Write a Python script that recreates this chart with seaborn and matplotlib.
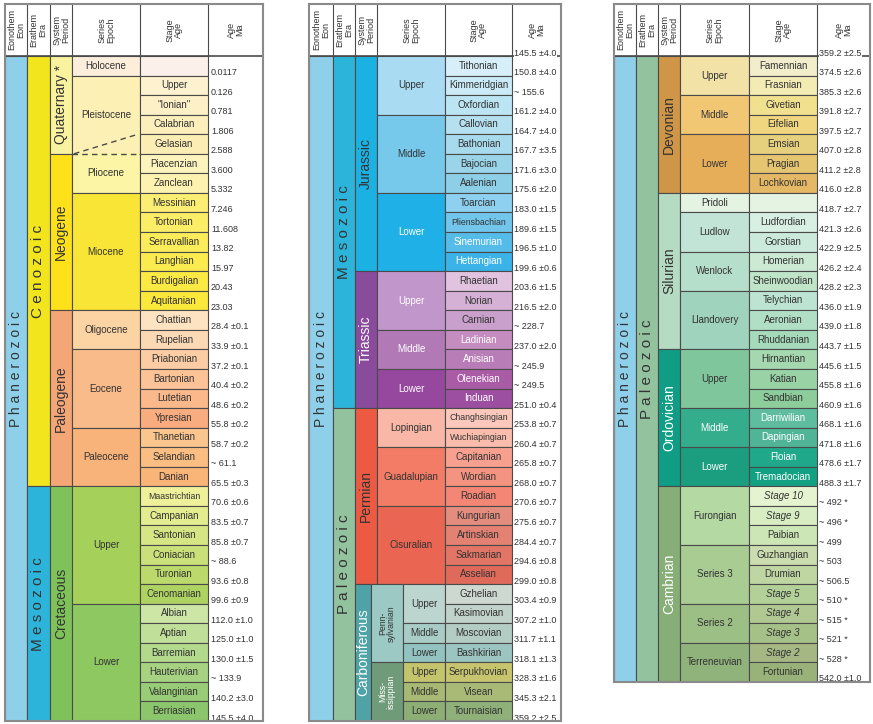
import matplotlib
matplotlib.use("Agg")
import numpy as np
import matplotlib.pyplot as plt
import seaborn as sns

# ---------------- data: panel 1 (Cenozoic / Cretaceous) ----------------
p1_eons = ["Phanerozoic"]
p1_eon_rows = [34]
p1_eras = ["Cenozoic", "Mesozoic"]
p1_era_rows = [22, 12]
p1_periods = ["Quaternary *", "Neogene", "Paleogene", "Cretaceous"]
p1_period_rows = [5, 8, 9, 12]
p1_epochs = ["Holocene", "Pleistocene", "Pliocene", "Miocene", "Oligocene",
             "Eocene", "Paleocene", "Upper", "Lower"]
p1_epoch_rows = [1, 4, 2, 6, 2, 4, 3, 6, 6]
p1_stages = ["", "Upper", '"Ionian"', "Calabrian", "Gelasian", "Piacenzian",
             "Zanclean", "Messinian", "Tortonian", "Serravallian", "Langhian",
             "Burdigalian", "Aquitanian", "Chattian", "Rupelian", "Priabonian",
             "Bartonian", "Lutetian", "Ypresian", "Thanetian", "Selandian",
             "Danian", "Maastrichtian", "Campanian", "Santonian", "Coniacian",
             "Turonian", "Cenomanian", "Albian", "Aptian", "Barremian",
             "Hauterivian", "Valanginian", "Berriasian"]
p1_ages = ["0.0117", "0.126", "0.781", "1.806", "2.588", "3.600", "5.332",
           "7.246", "11.608", "13.82", "15.97", "20.43", "23.03",
           "28.4 \u00b10.1", "33.9 \u00b10.1", "37.2 \u00b10.1", "40.4 \u00b10.2",
           "48.6 \u00b10.2", "55.8 \u00b10.2", "58.7 \u00b10.2", "~ 61.1",
           "65.5 \u00b10.3", "70.6 \u00b10.6", "83.5 \u00b10.7", "85.8 \u00b10.7",
           "~ 88.6", "93.6 \u00b10.8", "99.6 \u00b10.9", "112.0 \u00b11.0",
           "125.0 \u00b11.0", "130.0 \u00b11.5", "~ 133.9", "140.2 \u00b13.0",
           "145.5 \u00b14.0"]

# ---------------- data: panel 2 (Jurassic .. Carboniferous) ----------------
p2_eons = ["Phanerozoic"]
p2_eon_rows = [34]
p2_eras = ["Mesozoic", "Paleozoic"]
p2_era_rows = [18, 16]
p2_periods = ["Jurassic", "Triassic", "Permian"]
p2_period_rows = [11, 7, 9]
p2_carb = ["Carboniferous"]
p2_carb_rows = [7]
p2_epochs = ["Upper", "Middle", "Lower", "Upper", "Middle", "Lower",
             "Lopingian", "Guadalupian", "Cisuralian"]
p2_epoch_rows = [3, 4, 4, 3, 2, 2, 2, 3, 4]
p2_subperiods = ["Penn-\nsylvanian", "Miss-\nissippian"]
p2_subperiod_rows = [4, 3]
p2_subepochs = ["Upper", "Middle", "Lower", "Upper", "Middle", "Lower"]
p2_subepoch_rows = [2, 1, 1, 1, 1, 1]
p2_stages = ["Tithonian", "Kimmeridgian", "Oxfordian", "Callovian", "Bathonian",
             "Bajocian", "Aalenian", "Toarcian", "Pliensbachian", "Sinemurian",
             "Hettangian", "Rhaetian", "Norian", "Carnian", "Ladinian",
             "Anisian", "Olenekian", "Induan", "Changhsingian", "Wuchiapingian",
             "Capitanian", "Wordian", "Roadian", "Kungurian", "Artinskian",
             "Sakmarian", "Asselian", "Gzhelian", "Kasimovian", "Moscovian",
             "Bashkirian", "Serpukhovian", "Visean", "Tournaisian"]
p2_ages = ["145.5 \u00b14.0", "150.8 \u00b14.0", "~ 155.6", "161.2 \u00b14.0",
           "164.7 \u00b14.0", "167.7 \u00b13.5", "171.6 \u00b13.0", "175.6 \u00b12.0",
           "183.0 \u00b11.5", "189.6 \u00b11.5", "196.5 \u00b11.0", "199.6 \u00b10.6",
           "203.6 \u00b11.5", "216.5 \u00b12.0", "~ 228.7", "237.0 \u00b12.0",
           "~ 245.9", "~ 249.5", "251.0 \u00b10.4", "253.8 \u00b10.7",
           "260.4 \u00b10.7", "265.8 \u00b10.7", "268.0 \u00b10.7", "270.6 \u00b10.7",
           "275.6 \u00b10.7", "284.4 \u00b10.7", "294.6 \u00b10.8", "299.0 \u00b10.8",
           "303.4 \u00b10.9", "307.2 \u00b11.0", "311.7 \u00b11.1", "318.1 \u00b11.3",
           "328.3 \u00b11.6", "345.3 \u00b12.1", "359.2 \u00b12.5"]

# ---------------- data: panel 3 (Devonian .. Cambrian) ----------------
p3_eons = ["Phanerozoic"]
p3_eon_rows = [32]
p3_eras = ["Paleozoic"]
p3_era_rows = [32]
p3_periods = ["Devonian", "Silurian", "Ordovician", "Cambrian"]
p3_period_rows = [7, 8, 7, 10]
p3_epochs = ["Upper", "Middle", "Lower", "Pridoli", "Ludlow", "Wenlock",
             "Llandovery", "Upper", "Middle", "Lower", "Furongian", "Series 3",
             "Series 2", "Terreneuvian"]
p3_epoch_rows = [2, 2, 3, 1, 2, 2, 3, 3, 2, 2, 3, 3, 2, 2]
p3_stages = ["Famennian", "Frasnian", "Givetian", "Eifelian", "Emsian",
             "Pragian", "Lochkovian", "", "Ludfordian", "Gorstian", "Homerian",
             "Sheinwoodian", "Telychian", "Aeronian", "Rhuddanian", "Hirnantian",
             "Katian", "Sandbian", "Darriwilian", "Dapingian", "Floian",
             "Tremadocian", "Stage 10", "Stage 9", "Paibian", "Guzhangian",
             "Drumian", "Stage 5", "Stage 4", "Stage 3", "Stage 2", "Fortunian"]
p3_ages = ["359.2 \u00b12.5", "374.5 \u00b12.6", "385.3 \u00b12.6", "391.8 \u00b12.7",
           "397.5 \u00b12.7", "407.0 \u00b12.8", "411.2 \u00b12.8", "416.0 \u00b12.8",
           "418.7 \u00b12.7", "421.3 \u00b12.6", "422.9 \u00b12.5", "426.2 \u00b12.4",
           "428.2 \u00b12.3", "436.0 \u00b11.9", "439.0 \u00b11.8", "443.7 \u00b11.5",
           "445.6 \u00b11.5", "455.8 \u00b11.6", "460.9 \u00b11.6", "468.1 \u00b11.6",
           "471.8 \u00b11.6", "478.6 \u00b11.7", "488.3 \u00b11.7", "~ 492 *",
           "~ 496 *", "~ 499", "~ 503", "~ 506.5", "~ 510 *", "~ 515 *",
           "~ 521 *", "~ 528 *", "542.0 \u00b11.0"]

headers = ["Eonothem\nEon", "Erathem\nEra", "System\nPeriod", "Series\nEpoch",
           "Stage\nAge", "Age\nMa"]

# ---------------- colours ----------------
PHAN = "#8ecfea"
MESO = "#2db4da"
PALEO = "#93c29f"
p1_era_colors = ["#f2e51e", MESO]
p1_period_colors = ["#f9f3a0", "#ffe11a", "#f4a677", "#7fc25a"]
p1_epoch_colors = ["#fdeedc", "#fdf0b4", "#fdf5a6", "#f8e535", "#fcd4a4",
                   "#f9bb8a", "#f8b37b", "#a5d15a", "#8ec861"]
p1_stage_colors = ["#fcf0ea", "#fdf1cf", "#fdf0c7", "#fcefbb", "#fcedb4",
                   "#fdf4bd", "#fdf2b0", "#fbee72", "#fbed66", "#fbec5a",
                   "#fbeb4f", "#fbe944", "#fae83a", "#fde3c2", "#fcd9b5",
                   "#fccda4", "#fcc397", "#fab88b", "#f9ac7f", "#fbc68d",
                   "#fabd82", "#f9b478", "#eef09a", "#e3ec8e", "#d7e684",
                   "#cae078", "#bcd96c", "#afd362", "#cde6a6", "#c0df99",
                   "#b3d98d", "#a6d282", "#99cc77", "#8cc66c"]
p2_era_colors = [MESO, PALEO]
p2_period_colors = ["#1cb1e3", "#8a4b9c", "#ec5a43"]
p2_carb_colors = ["#4fa2a6"]
p2_epoch_colors = ["#a9dcf2", "#76c9ea", "#1eb0e6", "#c197cb", "#b17ab7",
                   "#96489e", "#f8b7a7", "#f27c66", "#ea6652"]
p2_subperiod_colors = ["#9cc9c4", "#6f9b79"]
p2_subepoch_colors = ["#bdd5cf", "#a9cdc6", "#92c3c0", "#c3c46b", "#a7b972",
                      "#8dae75"]
p2_stage_colors = ["#d6eff8", "#c9eaf6", "#bce5f3", "#b5e0f0", "#a7daec",
                   "#99d4e9", "#8ccfe6", "#8dd0f0", "#72c6ec", "#55bcea",
                   "#3bb3e8", "#e1c3df", "#d5b1d5", "#c9a0cc", "#c58cc0",
                   "#b87db6", "#a95ba6", "#9c4ea0", "#fbc8bb", "#fabcac",
                   "#f7a08f", "#f59381", "#f38674", "#e48d7f", "#e38172",
                   "#e27565", "#e06a5a", "#cdd8d0", "#c0d2ca", "#b3ccc4",
                   "#9cc4c0", "#c6c56e", "#a9ba76", "#8fb079"]
p3_era_colors = [PALEO]
p3_period_colors = ["#d09648", "#b5dcc3", "#0f9e85", "#86ae76"]
p3_epoch_colors = ["#f2e2a6", "#f1c774", "#e7ae5a", "#e4f3e2", "#c2e4d6",
                   "#b6dfcb", "#9fd3bd", "#80c69c", "#34ad8c", "#1b9d80",
                   "#b5d9a2", "#a8cc92", "#9cbf86", "#8fb37b"]
p3_stage_colors = ["#f2edcb", "#f2ebb4", "#f1e08e", "#f0d67f", "#e7d07d",
                   "#e6c571", "#e5b865", "#e4f3e2", "#d8efe3", "#cbeadc",
                   "#cbe9d3", "#bfe4c8", "#bde4d2", "#b1dfc6", "#a5dabb",
                   "#a6d8b0", "#99d3a5", "#8ccd9b", "#5ebc9f", "#50b596",
                   "#1fa88a", "#12a082", "#e6f3d0", "#d9edc2", "#cce6b5",
                   "#cbdcae", "#bfd6a3", "#b3d098", "#b2c893", "#a6c188",
                   "#a5b884", "#99b27a"]

TXT = "#333333"
LINE = "#4a4a4a"

sns.set_theme(style="white")
plt.rcParams["font.family"] = ["Liberation Sans", "DejaVu Sans"]

W_PX, H_PX = 873, 724
TOP_PX, BODY_PX, ROW_PX = 4, 56, 19.56
HDR = (BODY_PX - TOP_PX) / ROW_PX
EON_LABEL_ROW = 16

fig = plt.figure(figsize=(W_PX / 100, H_PX / 100), dpi=100)
fig.patch.set_facecolor("white")


def make_panel(left_px, width_px, n_rows):
    bottom_px = BODY_PX + n_rows * ROW_PX
    ax = fig.add_axes([left_px / W_PX, 1 - bottom_px / H_PX,
                       width_px / W_PX, (bottom_px - TOP_PX) / H_PX])
    ax.set_xlim(0, width_px)
    ax.set_ylim(n_rows, -HDR)
    ax.set_xticks([])
    ax.set_yticks([])
    for s in ax.spines.values():
        s.set_color("#8a8a8a")
        s.set_linewidth(1.5)
        s.set_zorder(10)
    return ax


def draw_units(ax, names, rows, colors, x0, x1, start=0, size=7.0,
               rotation=0, white=(), spaced=False, label_rows=None):
    rows = np.asarray(rows, dtype=float)
    bottoms = start + np.concatenate([[0], np.cumsum(rows)[:-1]])
    ax.bar(x0, rows, width=x1 - x0, bottom=bottoms, align="edge",
           color=colors, edgecolor=LINE, linewidth=0.8)
    for i, (name, b, n) in enumerate(zip(names, bottoms, rows)):
        if not name:
            continue
        label = " ".join(name) if spaced else name
        fs = size
        if rotation == 0 and len(name) > 12:
            fs = size - 0.7
        y = b + n / 2 if label_rows is None else label_rows
        ax.text((x0 + x1) / 2, y, label, rotation=rotation, ha="center",
                va="center", fontsize=fs,
                color="white" if i in white else TXT,
                style="italic" if name.startswith("Stage ") else "normal",
                linespacing=0.9)
    return bottoms


def draw_header(ax, edges):
    ax.vlines(edges[1:-1], -HDR, 0, color=LINE, linewidth=0.8)
    ax.hlines(0, 0, edges[-1], color=LINE, linewidth=1.2)
    for i, h in enumerate(headers):
        ax.text((edges[i] + edges[i + 1]) / 2, -HDR / 2, h, rotation=90,
                ha="center", va="center", fontsize=6.5, color=TXT,
                linespacing=0.95)


def draw_ages(ax, ages, x, first_row):
    for i, a in enumerate(ages):
        ax.text(x, first_row + i - 0.15, a, ha="left", va="center",
                fontsize=6.5, color=TXT, zorder=5,
                bbox=dict(facecolor="white", edgecolor="none", pad=0.2))


# ---------------- panel 1 ----------------
e1 = [0, 22, 45, 67, 135, 203, 258]
ax1 = make_panel(5, e1[-1], sum(p1_eon_rows))
draw_header(ax1, e1)
draw_units(ax1, p1_eons, p1_eon_rows, [PHAN], e1[0], e1[1], size=10,
           rotation=90, spaced=True, label_rows=EON_LABEL_ROW)
draw_units(ax1, p1_eras, p1_era_rows, p1_era_colors, e1[1], e1[2], size=11,
           rotation=90, spaced=True)
draw_units(ax1, p1_periods, p1_period_rows, p1_period_colors, e1[2], e1[3],
           size=10, rotation=90)
ep1 = draw_units(ax1, p1_epochs, p1_epoch_rows, p1_epoch_colors, e1[3], e1[4])
draw_units(ax1, p1_stages, [1] * len(p1_stages), p1_stage_colors, e1[4], e1[5])
draw_ages(ax1, p1_ages, e1[5] + 3, 1)
# Pleistocene / Pliocene boundary drawn dashed, with the Gelasian diagonal
b_plio = ep1[2]
ax1.hlines(b_plio, e1[3] + 1, e1[4] - 1, color=p1_epoch_colors[2], linewidth=2)
ax1.hlines(b_plio, e1[3], e1[4], color=LINE, linewidth=1.0,
           linestyles=(0, (4, 3)))
ax1.plot([e1[3] + 2, e1[4] - 2], [b_plio, b_plio - 1], color=LINE,
         linewidth=1.0, linestyle=(0, (4, 3)))

# ---------------- panel 2 ----------------
e2 = [0, 24, 46, 68, 136, 203, 252]
carb_cols = [46, 62, 94, 136]
ax2 = make_panel(309, e2[-1], sum(p2_eon_rows))
draw_header(ax2, e2)
draw_units(ax2, p2_eons, p2_eon_rows, [PHAN], e2[0], e2[1], size=10,
           rotation=90, spaced=True, label_rows=EON_LABEL_ROW)
draw_units(ax2, p2_eras, p2_era_rows, p2_era_colors, e2[1], e2[2], size=11,
           rotation=90, spaced=True)
draw_units(ax2, p2_periods, p2_period_rows, p2_period_colors, e2[2], e2[3],
           size=10, rotation=90, white=(1,))
carb_start = sum(p2_period_rows)
draw_units(ax2, p2_carb, p2_carb_rows, p2_carb_colors, carb_cols[0],
           carb_cols[1], start=carb_start, size=10, rotation=90, white=(0,))
draw_units(ax2, p2_epochs, p2_epoch_rows, p2_epoch_colors, e2[3], e2[4],
           white=(2, 3, 4, 5))
draw_units(ax2, p2_subperiods, p2_subperiod_rows, p2_subperiod_colors,
           carb_cols[1], carb_cols[2], start=carb_start, size=6.3,
           rotation=90, white=(1,))
draw_units(ax2, p2_subepochs, p2_subepoch_rows, p2_subepoch_colors,
           carb_cols[2], carb_cols[3], start=carb_start)
draw_units(ax2, p2_stages, [1] * len(p2_stages), p2_stage_colors, e2[4], e2[5],
           white=(9, 10, 14, 15, 16, 17))
draw_ages(ax2, p2_ages, e2[5] + 2, 0)

# ---------------- panel 3 ----------------
e3 = [0, 22, 44, 66, 135, 203, 256]
ax3 = make_panel(614, e3[-1], sum(p3_eon_rows))
draw_header(ax3, e3)
draw_units(ax3, p3_eons, p3_eon_rows, [PHAN], e3[0], e3[1], size=10,
           rotation=90, spaced=True, label_rows=EON_LABEL_ROW)
draw_units(ax3, p3_eras, p3_era_rows, p3_era_colors, e3[1], e3[2], size=11,
           rotation=90, spaced=True)
draw_units(ax3, p3_periods, p3_period_rows, p3_period_colors, e3[2], e3[3],
           size=10, rotation=90, white=(2, 3))
draw_units(ax3, p3_epochs, p3_epoch_rows, p3_epoch_colors, e3[3], e3[4],
           white=(8, 9))
draw_units(ax3, p3_stages, [1] * len(p3_stages), p3_stage_colors, e3[4], e3[5],
           white=(18, 19, 20, 21))
draw_ages(ax3, p3_ages, e3[5] + 2, 0)

fig.savefig("out.png", dpi=100, facecolor="white")
